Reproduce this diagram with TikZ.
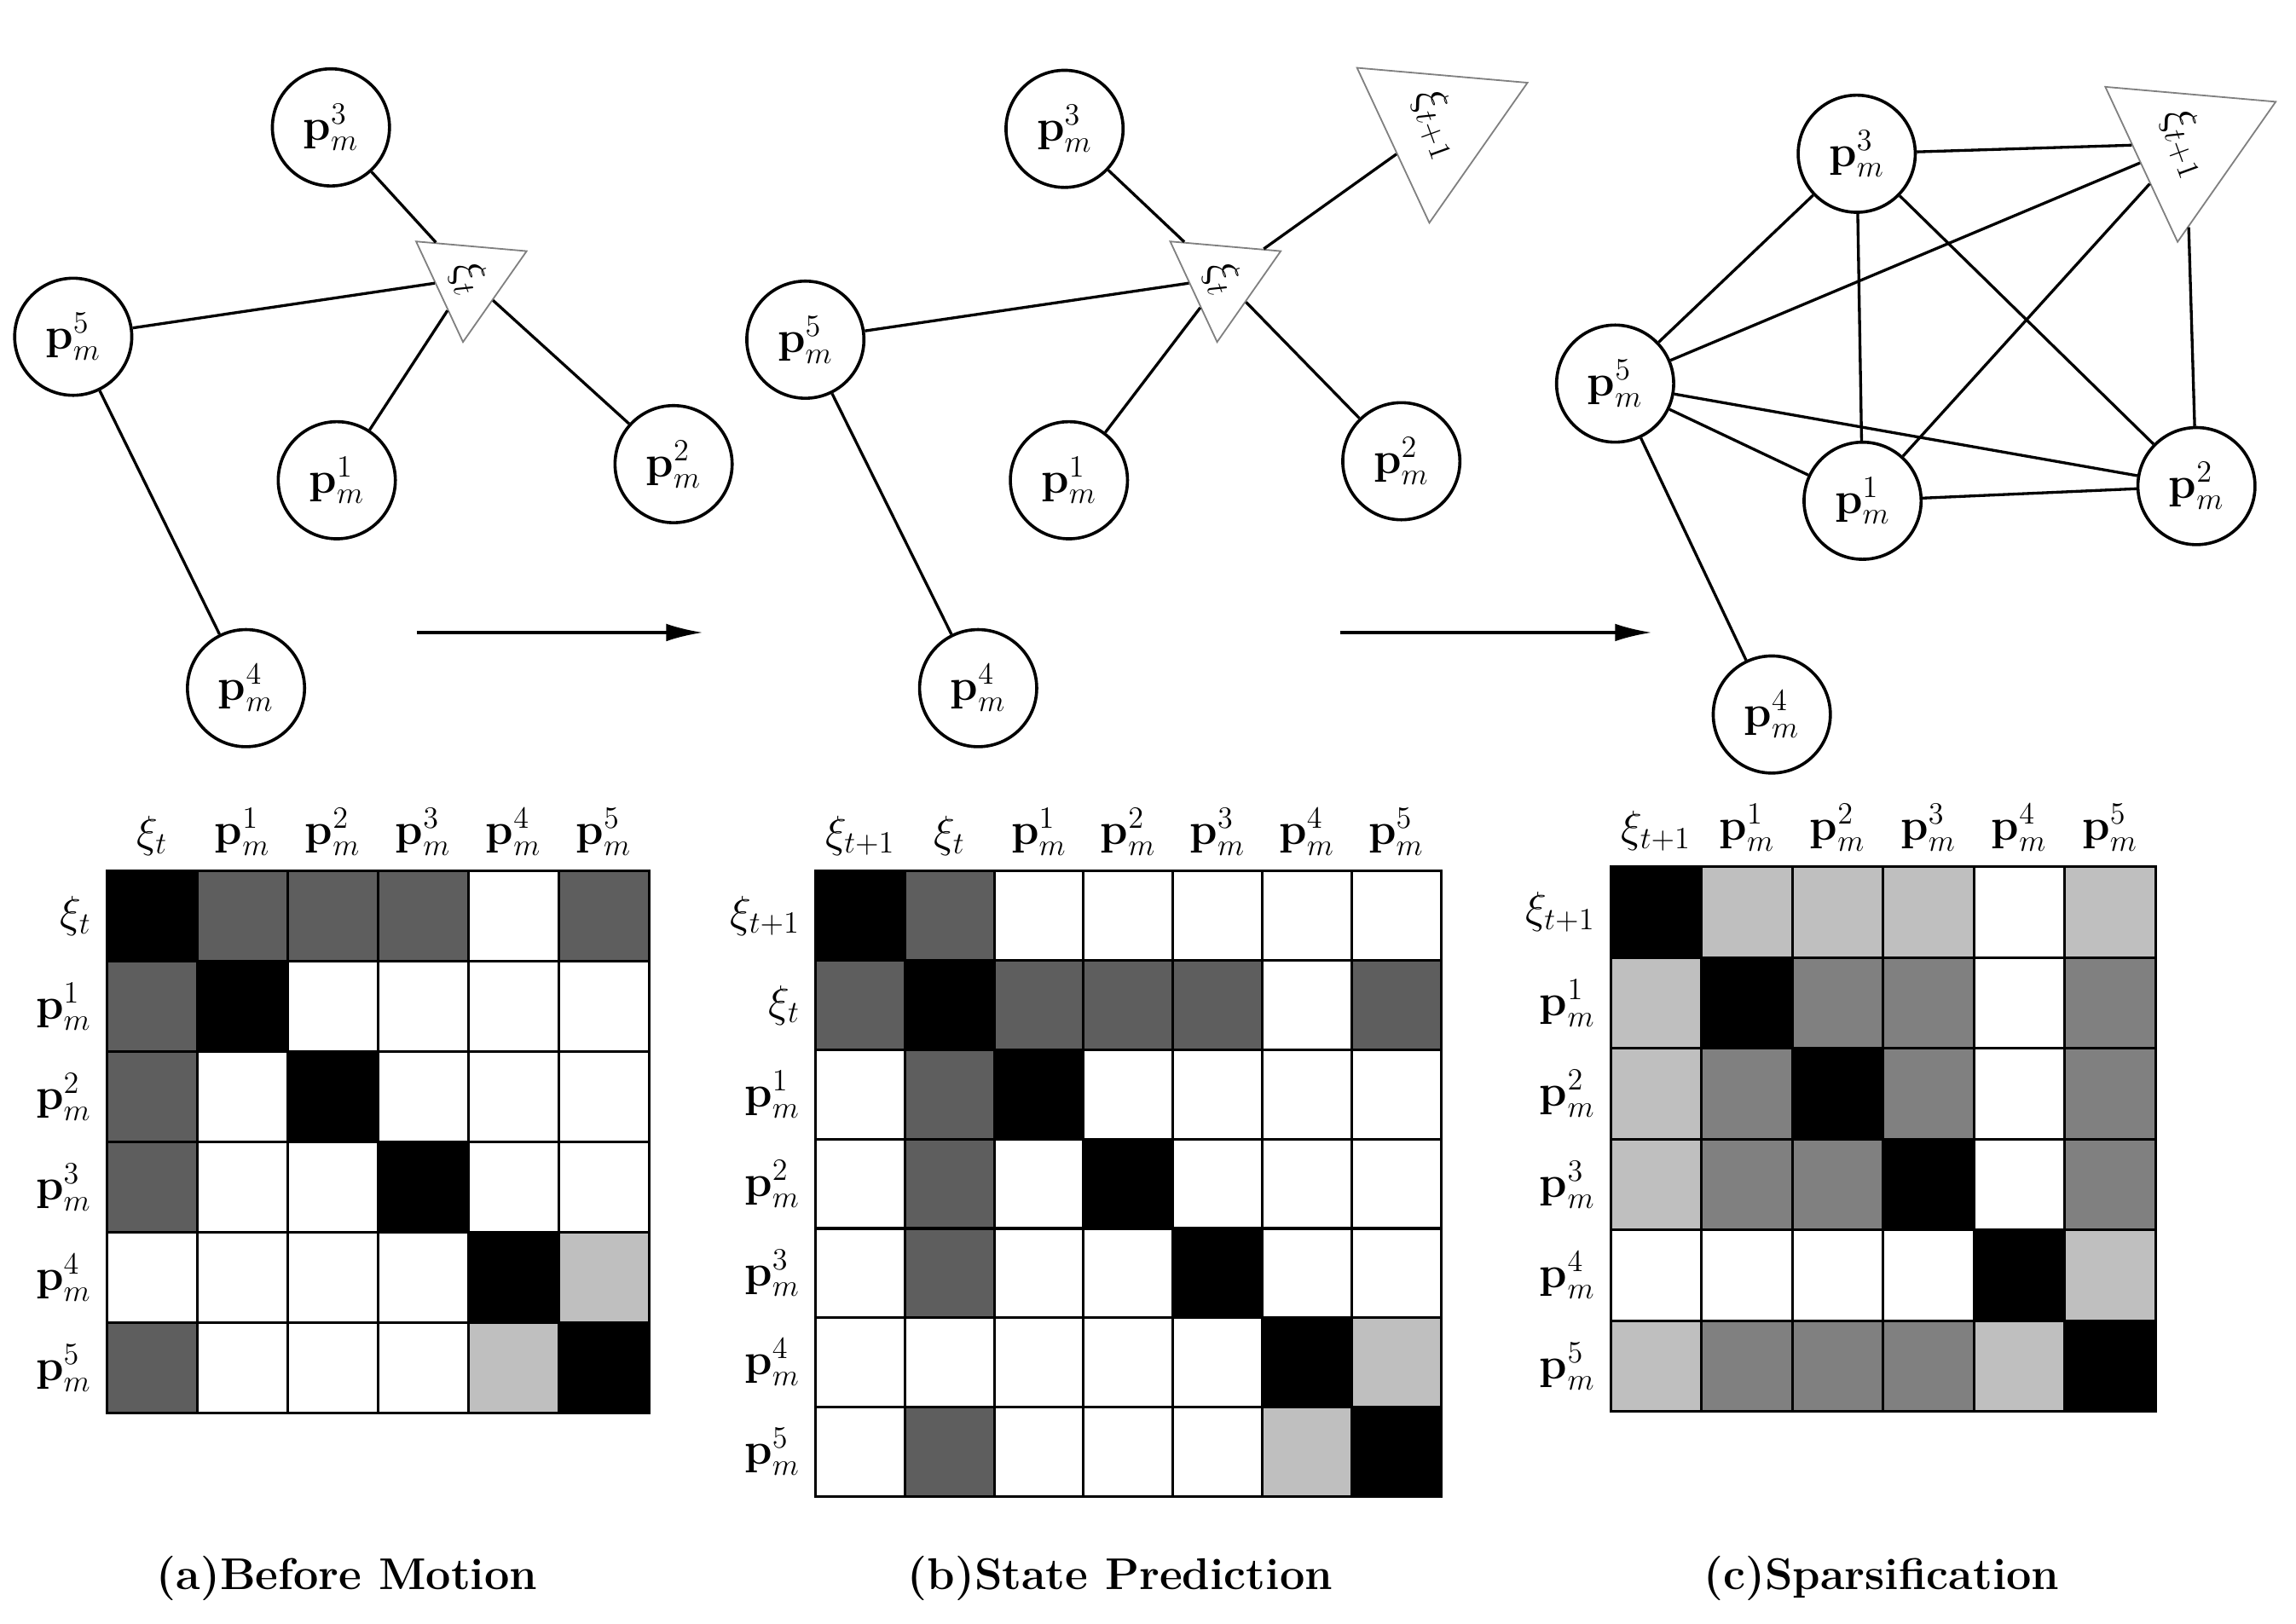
\documentclass[tikz,border=0pt]{standalone}
\usepackage{amsmath}
\usetikzlibrary{positioning,shapes.geometric,arrows.meta}
\definecolor{cellB}{gray}{0}
\definecolor{cellD}{gray}{0.37}
\definecolor{cellM}{gray}{0.5}
\definecolor{cellL}{gray}{0.75}
\definecolor{cellW}{gray}{1}
\newcommand{\pnode}[1]{$\mathbf{p}_m^{#1}$}
\begin{document}
\begin{tikzpicture}[x=0.02cm,y=-0.02cm,
		% styles
		landmark/.style={
				circle,
				draw,
				line width=1.2pt,
				minimum size=1.6cm,
				inner sep=0pt,
				font=\LARGE
			},
		pose/.style={
				regular polygon,
				regular polygon sides=3,
				draw=gray,
				line width=0.6pt,
				inner sep=0pt,
				font=\LARGE,
				rotate=-70,
				shape border rotate=-115
			},
		link/.style={
				line width=1.1pt
			},
		motion/.style={
				-{Latex[length=5mm,width=2.4mm]},
				line width=1.1pt
			},
		cell/.style={
				draw,
				line width=1pt,
				minimum size=#1,
				inner sep=0pt
			},
		head/.style={
				font=\LARGE
			},
		subcap/.style={
				font=\LARGE\bfseries
			}
	]
	\useasboundingbox (0,0) rectangle (1568,1109);

	% (a) Before Motion
	\node[landmark] (a3) at (226,87) {\pnode{3}};
	\node[landmark] (a5) at (50,230) {\pnode{5}};
	\node[landmark] (a1) at (230,328) {\pnode{1}};
	\node[landmark] (a2) at (460,317) {\pnode{2}};
	\node[landmark] (a4) at (168,470) {\pnode{4}};
	\node[pose, minimum size=1.75cm] (axi) at (320,190) {$\xi_t$};
	\draw[link] (a3) -- (axi);
	\draw[link] (a5) -- (axi);
	\draw[link] (a1) -- (axi);
	\draw[link] (a2) -- (axi);
	\draw[link] (a5) -- (a4);
	\coordinate (s1) at (285,432);
	\coordinate (e1) at (480,432);
	\draw[motion] (s1) -- (e1);

	% (b) State Prediction
	\node[landmark] (b3) at (727,88) {\pnode{3}};
	\node[landmark] (b5) at (550,232) {\pnode{5}};
	\node[landmark] (b1) at (730,328) {\pnode{1}};
	\node[landmark] (b2) at (957,315) {\pnode{2}};
	\node[landmark] (b4) at (668,470) {\pnode{4}};
	\node[pose, minimum size=1.75cm] (bxi) at (835,190) {$\xi_t$};
	\node[pose, minimum size=2.3cm] (bxn) at (982,85) {$\xi_{t+1}$};
	\draw[link] (b3) -- (bxi);
	\draw[link] (b5) -- (bxi);
	\draw[link] (b1) -- (bxi);
	\draw[link] (b2) -- (bxi);
	\draw[link] (bxi) -- (bxn);
	\draw[link] (b5) -- (b4);
	\coordinate (s2) at (915,432);
	\coordinate (e2) at (1128,432);
	\draw[motion] (s2) -- (e2);

	% (c) Sparsification
	\node[landmark] (c3) at (1268,105) {\pnode{3}};
	\node[landmark] (c5) at (1103,262) {\pnode{5}};
	\node[landmark] (c1) at (1272,342) {\pnode{1}};
	\node[landmark] (c2) at (1500,332) {\pnode{2}};
	\node[landmark] (c4) at (1210,488) {\pnode{4}};
	\node[pose, minimum size=2.3cm] (cxn) at (1493,98) {$\xi_{t+1}$};
	\draw[link] (c3) -- (cxn);
	\draw[link] (c3) -- (c5);
	\draw[link] (c3) -- (c1);
	\draw[link] (c3) -- (c2);
	\draw[link] (c5) -- (cxn);
	\draw[link] (c5) -- (c1);
	\draw[link] (c5) -- (c2);
	\draw[link] (c5) -- (c4);
	\draw[link] (c1) -- (cxn);
	\draw[link] (c1) -- (c2);
	\draw[link] (c2) -- (cxn);

	% information matrices
	\foreach \row [count=\i] in {{B,D,D,D,W,D},{D,B,W,W,W,W},{D,W,B,W,W,W},
			{D,W,W,B,W,W},{W,W,W,W,B,L},{D,W,W,W,L,B}}
		\foreach \c [count=\j] in \row
			\node[cell=1.234cm, fill=cell\c] (ma-\i-\j) at (73+61.7*\j-30.85,595+61.7*\i-30.85) {};
	\foreach \lab [count=\j] in {\xi_t,\mathbf{p}_m^1,\mathbf{p}_m^2,\mathbf{p}_m^3,\mathbf{p}_m^4,\mathbf{p}_m^5} {
		\node[head, above=2pt of ma-1-\j] (ha-\j) {$\lab$};
		\node[head, left=2pt of ma-\j-1] (ra-\j) {$\lab$};
	}

	\foreach \row [count=\i] in {{B,D,W,W,W,W,W},{D,B,D,D,D,W,D},{W,D,B,W,W,W,W},
			{W,D,W,B,W,W,W},{W,D,W,W,B,W,W},{W,W,W,W,W,B,L},{W,D,W,W,W,L,B}}
		\foreach \c [count=\j] in \row
			\node[cell=1.22cm, fill=cell\c] (mb-\i-\j) at (557+61*\j-30.5,595+61*\i-30.5) {};
	\foreach \lab [count=\j] in {\xi_{t+1},\xi_t,\mathbf{p}_m^1,\mathbf{p}_m^2,\mathbf{p}_m^3,\mathbf{p}_m^4,\mathbf{p}_m^5} {
		\node[head, above=2pt of mb-1-\j] (hb-\j) {$\lab$};
		\node[head, left=2pt of mb-\j-1] (rb-\j) {$\lab$};
	}

	\foreach \row [count=\i] in {{B,L,L,L,W,L},{L,B,M,M,W,M},{L,M,B,M,W,M},
			{L,M,M,B,W,M},{W,W,W,W,B,L},{L,M,M,M,L,B}}
		\foreach \c [count=\j] in \row
			\node[cell=1.24cm, fill=cell\c] (mc-\i-\j) at (1100+62*\j-31,592+62*\i-31) {};
	\foreach \lab [count=\j] in {\xi_{t+1},\mathbf{p}_m^1,\mathbf{p}_m^2,\mathbf{p}_m^3,\mathbf{p}_m^4,\mathbf{p}_m^5} {
		\node[head, above=2pt of mc-1-\j] (hc-\j) {$\lab$};
		\node[head, left=2pt of mc-\j-1] (rc-\j) {$\lab$};
	}

	% captions
	\node[subcap] (capa) at (237,1078) {(a)Before Motion};
	\node[subcap] (capb) at (765,1078) {(b)State Prediction};
	\node[subcap] (capc) at (1285,1078) {(c)Sparsification};
\end{tikzpicture}
\end{document}
